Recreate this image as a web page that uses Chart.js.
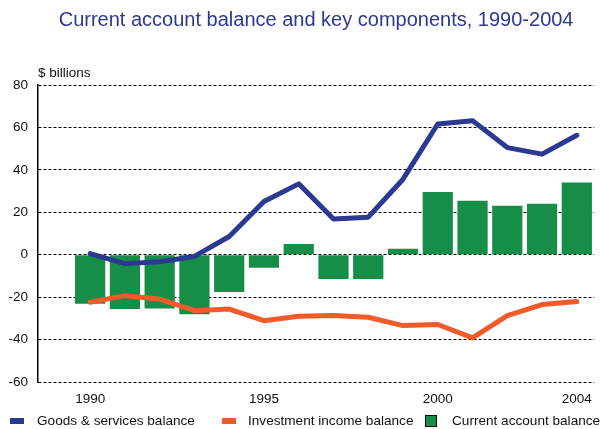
<!DOCTYPE html>
<html lang="en">
<head>
    <meta charset="UTF-8">
    <title>Current account balance and key components, 1990-2004</title>
    <script src="https://cdn.jsdelivr.net/npm/chart.js"></script>
    <style>
        html, body { margin: 0; padding: 0; background: #fff; }
        .wrap { width: 601px; height: 429px; position: relative; }
    </style>
</head>
<body>
    <div class="wrap"><canvas id="chart"></canvas></div>
    <script>
        // years on the axis; a blank slot sits before 1990
        const years = ['1990', '1991', '1992', '1993', '1994', '1995', '1996', '1997',
                       '1998', '1999', '2000', '2001', '2002', '2003', '2004'];
        const shownYears = ['1990', '1995', '2000', '2004'];

        // $ billions
        const goodsServices = [0.5, -4.2, -3.3, -0.8, 8.6, 25.1, 33.4, 16.8, 17.7, 35.6, 61.6, 63.2, 50.5, 47.4, 56.3];
        const investmentIncome = [-22.4, -19.3, -20.9, -26.4, -25.6, -31.1, -29.0, -28.7, -29.5, -33.4, -32.9, -39.2, -28.7, -23.5, -22.1];
        const currentAccount = [-23.1, -25.6, -25.4, -28.1, -17.6, -6.1, 5.0, -11.5, -11.5, 2.8, 29.6, 25.4, 23.1, 24.0, 34.0];

        const yTicks = [-60, -40, -20, 0, 20, 40, 60, 80];

        const BLUE = '#2b3990';
        const ORANGE = '#f15a29';
        const GREEN = '#178e48';
        const FONT = '"Liberation Sans", Arial, sans-serif';

        const pad = arr => [null, ...arr];

        const extras = {
            id: 'extras',
            afterDraw(chart) {
                const ctx = chart.ctx;
                const area = chart.chartArea;
                ctx.save();
                // title
                ctx.fillStyle = BLUE;
                ctx.font = '20px ' + FONT;
                ctx.textAlign = 'center';
                ctx.textBaseline = 'middle';
                ctx.fillText('Current account balance and key components, 1990-2004', (area.left + area.right) / 2, 20);

                // unit label
                ctx.fillStyle = '#111';
                ctx.font = '13.5px ' + FONT;
                ctx.textAlign = 'left';
                ctx.fillText('$ billions', 38, 73);

                // legend
                const ly = 421;
                ctx.fillStyle = BLUE;
                ctx.fillRect(10, ly - 3, 14, 6);
                ctx.fillStyle = ORANGE;
                ctx.fillRect(222, ly - 3, 14, 6);
                ctx.fillStyle = GREEN;
                ctx.fillRect(425, ly - 6, 12, 12);
                ctx.strokeStyle = '#000';
                ctx.lineWidth = 1;
                ctx.strokeRect(425.5, ly - 5.5, 11, 11);

                ctx.fillStyle = '#111';
                ctx.font = '13.6px ' + FONT;
                ctx.fillText('Goods & services balance', 37, ly);
                ctx.fillText('Investment income balance', 248, ly);
                ctx.fillText('Current account balance', 452, ly);
                ctx.restore();
            }
        };

        new Chart(document.getElementById('chart').getContext('2d'), {
            type: 'bar',
            data: {
                labels: ['', ...years],
                datasets: [
                    {
                        type: 'line',
                        label: 'Goods & services balance',
                        data: pad(goodsServices),
                        borderColor: BLUE,
                        borderWidth: 5,
                        pointRadius: 0,
                        tension: 0,
                        borderCapStyle: 'round',
                        borderJoinStyle: 'round',
                        order: 0
                    },
                    {
                        type: 'line',
                        label: 'Investment income balance',
                        data: pad(investmentIncome),
                        borderColor: ORANGE,
                        borderWidth: 5,
                        pointRadius: 0,
                        tension: 0,
                        borderCapStyle: 'round',
                        borderJoinStyle: 'round',
                        order: 1
                    },
                    {
                        label: 'Current account balance',
                        data: pad(currentAccount),
                        backgroundColor: GREEN,
                        barPercentage: 0.87,
                        categoryPercentage: 1,
                        order: 2
                    }
                ]
            },
            options: {
                responsive: true,
                maintainAspectRatio: false,
                animation: false,
                layout: { padding: { top: 85, right: 5, left: 0, bottom: 0 } },
                plugins: {
                    legend: { display: false },
                    title: { display: false },
                    tooltip: { enabled: false }
                },
                scales: {
                    x: {
                        grid: { display: false, drawTicks: false },
                        border: { display: false },
                        afterFit: s => { s.height = 47; },
                        ticks: {
                            autoSkip: false,
                            maxRotation: 0,
                            padding: 9,
                            color: '#111',
                            font: { family: FONT, size: 13.5, weight: 'normal' },
                            callback: function (v) {
                                const l = this.getLabelForValue(v);
                                return shownYears.includes(l) ? l : '';
                            }
                        }
                    },
                    y: {
                        min: -60,
                        max: 80,
                        afterBuildTicks: s => { s.ticks = yTicks.map(v => ({ value: v })); },
                        afterFit: s => { s.width = 38; },
                        grid: { color: '#000', lineWidth: 1, drawTicks: false },
                        border: { display: true, color: '#000', width: 1.5, dash: [3, 2] },
                        ticks: {
                            padding: 10,
                            color: '#111',
                            font: { family: FONT, size: 13.5 }
                        }
                    }
                }
            },
            plugins: [extras]
        });
    </script>
</body>
</html>
